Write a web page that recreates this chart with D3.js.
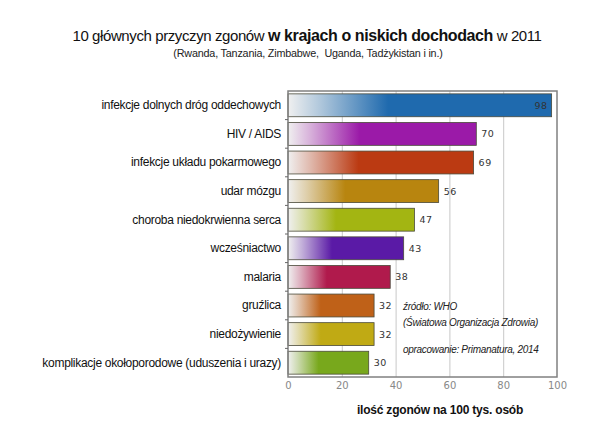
<!DOCTYPE html>
<html><head><meta charset="utf-8">
<script src="https://cdn.jsdelivr.net/npm/d3@7"></script>
<style>body{margin:0;background:#fff} text{white-space:pre}</style>
</head><body>
<svg id="c" width="600" height="429"></svg>
<script>
const categories = ["infekcje dolnych dróg oddechowych","HIV / AIDS","infekcje układu pokarmowego","udar mózgu","choroba niedokrwienna serca","wcześniactwo","malaria","gruźlica","niedożywienie","komplikacje okołoporodowe (uduszenia i urazy)"];
const values = [98,70,69,56,47,43,38,32,32,30];
const colors = ["#1f6aae","#9b1aa8","#bb3a12","#b8850f","#a3b512","#5a1aa6","#b01a4c","#bf6118","#c0aa14","#78a81c"];
const xTicks = [0,20,40,60,80,100];

const svg = d3.select("#c");
const m = {left:288, right:557, top:91, bottom:377};
const x = d3.scaleLinear().domain([0,100]).range([m.left, m.right]);
const y = d3.scaleBand().domain(categories).range([m.top, m.bottom]).paddingInner(0.2).paddingOuter(0.1);

const defs = svg.append("defs");
colors.forEach((c,i)=>{
  const g = defs.append("linearGradient").attr("id","g"+i).attr("x1","0").attr("x2","1").attr("y1","0").attr("y2","0");
  g.append("stop").attr("offset","0").attr("stop-color","#f0f0f0");
  g.append("stop").attr("offset","0.12").attr("stop-color",d3.interpolateRgb("#f0f0f0",c)(0.3));
  g.append("stop").attr("offset","0.38").attr("stop-color",c);
  g.append("stop").attr("offset","1").attr("stop-color",c);
});

// plot bg
svg.append("rect").attr("x",m.left).attr("y",m.top).attr("width",m.right-m.left).attr("height",m.bottom-m.top).attr("fill","#fff");
// grid
svg.append("g").selectAll("line").data(xTicks.slice(1,-1)).join("line")
  .attr("x1",d=>x(d)+0.5).attr("x2",d=>x(d)+0.5).attr("y1",m.top).attr("y2",m.bottom)
  .attr("stroke","#c8c8c8").attr("stroke-width",1);

// bars
svg.append("g").selectAll("rect").data(values).join("rect")
  .attr("x",x(0)).attr("y",(d,i)=>y(categories[i]))
  .attr("width",d=>x(d)-x(0)).attr("height",y.bandwidth())
  .attr("fill",(d,i)=>`url(#g${i})`).attr("stroke","#4a4a3a").attr("stroke-width",0.8);

// value labels
svg.append("g").selectAll("text").data(values).join("text")
  .attr("x",d=> d>90 ? x(d)-4 : x(d)+5)
  .attr("y",(d,i)=>y(categories[i])+y.bandwidth()/2+3.5)
  .attr("text-anchor",d=> d>90 ? "end":"start")
  .attr("font-family","DejaVu Sans").attr("font-size",9.5).attr("fill","#333")
  .attr("letter-spacing",0.5)
  .text(d=>d);

// frame
svg.append("rect").attr("x",m.left).attr("y",m.top).attr("width",m.right-m.left).attr("height",m.bottom-m.top)
  .attr("fill","none").attr("stroke","#808080").attr("stroke-width",1.5);

// left ticks at band boundaries
const bounds = d3.range(1,categories.length).map(i=>(y(categories[i-1])+y.bandwidth()+y(categories[i]))/2);
svg.append("g").selectAll("line").data(bounds).join("line")
  .attr("x1",m.left-3).attr("x2",m.left).attr("y1",d=>d).attr("y2",d=>d).attr("stroke","#666");

// y axis labels
const ya = d3.axisLeft(y).tickSize(0).tickPadding(7);
const yg = svg.append("g").attr("transform",`translate(${m.left},0)`).call(ya);
yg.select(".domain").remove();
yg.selectAll("text").attr("font-family","Liberation Sans").attr("font-size",12).attr("letter-spacing",-0.3).attr("fill","#111");

// x axis
const xa = d3.axisBottom(x).tickValues(xTicks).tickSize(0).tickPadding(4);
const xg = svg.append("g").attr("transform",`translate(0,${m.bottom+1})`).call(xa);
xg.select(".domain").remove();
xg.selectAll("text").attr("font-family","DejaVu Sans").attr("font-size",10).attr("fill","#888");

// titles
const t = svg.append("text").attr("x",307).attr("y",41).attr("text-anchor","middle")
  .attr("font-family","Liberation Sans").attr("font-size",15).attr("letter-spacing",-0.4).attr("fill","#111");
t.append("tspan").text("10 głównych przyczyn zgonów ");
t.append("tspan").attr("font-weight","bold").attr("font-size",16).text("w krajach o niskich dochodach");
t.append("tspan").text(" w 2011");
svg.append("text").attr("x",308).attr("y",57).attr("text-anchor","middle")
  .attr("font-family","Liberation Sans").attr("font-size",10.8).attr("letter-spacing",-0.2).attr("fill","#222")
  .text("(Rwanda, Tanzania, Zimbabwe,  Uganda, Tadżykistan i in.)");

svg.append("text").attr("x",440).attr("y",414).attr("text-anchor","middle")
  .attr("font-family","Liberation Sans").attr("font-size",12).attr("letter-spacing",-0.2).attr("font-weight","bold").attr("fill","#111")
  .text("ilość zgonów na 100 tys. osób");

// source notes
const notes = [["źródło: WHO",310],["(Światowa Organizacja Zdrowia)",326],["opracowanie: Primanatura, 2014",353]];
svg.append("g").selectAll("text").data(notes).join("text")
  .attr("x",403).attr("y",d=>d[1]).attr("font-family","Liberation Sans").attr("font-style","italic")
  .attr("font-size",10).attr("letter-spacing",-0.3).attr("fill","#222").text(d=>d[0]);
</script>
</body></html>
